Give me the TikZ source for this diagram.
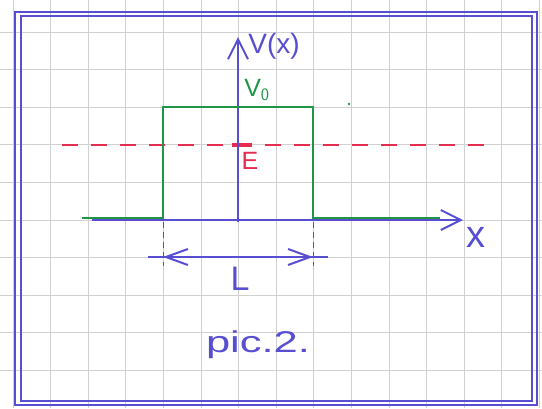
\documentclass[tikz,border=0pt]{standalone}
\usepackage{fontspec}
\setmainfont{Liberation Sans}
\usetikzlibrary{arrows.meta}
\definecolor{pen}{RGB}{88,78,210}
\definecolor{grn}{RGB}{30,150,70}
\definecolor{rd}{RGB}{228,45,80}
\definecolor{gridc}{RGB}{208,208,208}
\begin{document}
\begin{tikzpicture}[x=1pt,y=-1pt,
  gridline/.style={draw=gridc, line width=0.7pt},
  frameline/.style={draw=pen, line width=1.5pt},
  axisline/.style={draw=pen, line width=1.5pt, -{Straight Barb[length=20pt,width=20pt,line width=2pt]}},
  potline/.style={draw=grn, line width=2pt},
  energyline/.style={draw=rd, line width=1.8pt, dash pattern=on 16pt off 13pt},
  guideline/.style={draw=pen, line width=1pt, dash pattern=on 6pt off 4pt},
  dimline/.style={draw=pen, line width=1.5pt},
  dimarrow/.style={draw=pen, line width=1.5pt, {Straight Barb[length=22pt,width=16pt,line width=2pt]}-{Straight Barb[length=22pt,width=16pt,line width=2pt]}},
  pentext/.style={text=pen, inner sep=0pt},
]
\useasboundingbox (0,0) rectangle (542,408);
\fill[white] (0,0) rectangle (542,408);
% graph paper
\foreach \k in {0,...,14} \draw[gridline] ({13+37.6*\k},0) -- ({13+37.6*\k},408);
\foreach \k in {0,...,9} \draw[gridline] (0,{32+37.6*\k}) -- (542,{32+37.6*\k});
% double frame
\draw[frameline] (15,12) rectangle (537,405);
\draw[frameline] (21,16) rectangle (532,401);
% coordinates
\coordinate (xs) at (92,220);
\coordinate (xe) at (463,220);
\coordinate (vs) at (238,222);
\coordinate (ve) at (238,37);
\coordinate (p0) at (82,218);
\coordinate (p1) at (163,218);
\coordinate (p2) at (163,107);
\coordinate (p3) at (313,107);
\coordinate (p4) at (313,218);
\coordinate (p5) at (440,218);
\coordinate (es) at (62,145);
\coordinate (ee) at (491,145);
\coordinate (em1) at (232,145);
\coordinate (em2) at (252,145);
\coordinate (g1s) at (163,222);
\coordinate (g1e) at (163,266);
\coordinate (g2s) at (313,222);
\coordinate (g2e) at (313,266);
\coordinate (ls) at (148,257);
\coordinate (le) at (328,257);
\coordinate (la) at (163,257);
\coordinate (lb) at (313,257);
% energy level
\draw[energyline] (es) -- (ee);
\draw[draw=rd, line width=3.5pt] (em1) -- (em2);
% axes
\draw[axisline] (xs) -- (xe);
\draw[axisline] (vs) -- (ve);
% potential barrier
\draw[potline] (p0) -- (p1) -- (p2) -- (p3) -- (p4) -- (p5);
\fill[grn] (349,104) circle (1.4pt);
% width guides
\draw[guideline] (g1s) -- (g1e);
\draw[guideline] (g2s) -- (g2e);
\draw[dimline] (ls) -- (le);
\draw[dimarrow] (la) -- (lb);
% labels
\node[pentext, font=\fontsize{28}{28}\selectfont] (vlab) at (274,46) {V(x)};
\node[text=grn, inner sep=0pt, font=\fontsize{25}{25}\selectfont] (v0lab) at (257,90) {V$_\mathsf{0}$};
\node[text=rd, inner sep=0pt, font=\fontsize{25}{25}\selectfont] (elab) at (250,161) {E};
\node[pentext, font=\fontsize{38}{38}\selectfont] (xlab) at (476,237) {x};
\node[pentext, font=\fontsize{34}{34}\selectfont] (llab) at (240,279) {L};
\node[pentext, font=\fontsize{30}{30}\selectfont] (pic) at (258,345) {\scalebox{1.45}[1]{pic.2.}};
\end{tikzpicture}
\end{document}
